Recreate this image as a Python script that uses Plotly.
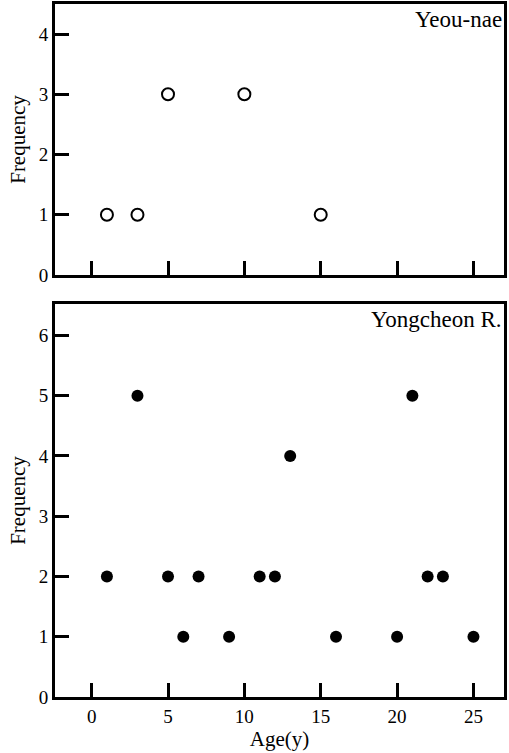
import plotly.graph_objects as go

# Yeou-nae (open circles)
yeou_age = [1, 3, 5, 10, 15]
yeou_freq = [1, 1, 3, 3, 1]

# Yongcheon R. (filled circles)
yong_age = [1, 3, 5, 6, 7, 9, 11, 12, 13, 16, 20, 21, 22, 23, 25]
yong_freq = [2, 5, 2, 1, 2, 1, 2, 2, 4, 1, 1, 5, 2, 2, 1]

x_ticks = [0, 5, 10, 15, 20, 25]
y_ticks_top = [0, 1, 2, 3, 4]
y_ticks_bot = [0, 1, 2, 3, 4, 5, 6]

FONT = "Liberation Serif"

fig = go.Figure()
fig.add_trace(go.Scatter(x=yeou_age, y=yeou_freq, mode="markers",
                         marker=dict(symbol="circle-open", size=12, color="black",
                                     line=dict(width=2, color="black")),
                         xaxis="x", yaxis="y", showlegend=False))
fig.add_trace(go.Scatter(x=yong_age, y=yong_freq, mode="markers",
                         marker=dict(symbol="circle", size=12, color="black"),
                         xaxis="x2", yaxis="y2", showlegend=False))

axis_common = dict(showline=True, linecolor="black", linewidth=3, mirror=True,
                   ticks="inside", tickwidth=3, tickcolor="black",
                   showgrid=False, zeroline=False,
                   tickfont=dict(family=FONT, size=19, color="black"))

fig.update_layout(
    width=509, height=753,
    margin=dict(l=55, r=5, t=4, b=56, autoexpand=False),
    plot_bgcolor="white", paper_bgcolor="white",
    font=dict(family=FONT, color="black"),
    xaxis=dict(axis_common, domain=[0, 1], range=[-2.4, 27], tickvals=x_ticks,
               showticklabels=False, ticklen=14, anchor="y"),
    yaxis=dict(axis_common, domain=[0.609, 1], range=[0, 4.5], tickvals=y_ticks_top,
               ticklen=14, anchor="x",
               title=dict(text="Frequency", font=dict(family=FONT, size=21), standoff=8)),
    xaxis2=dict(axis_common, domain=[0, 1], range=[-2.4, 27], tickvals=x_ticks,
                ticklen=14, anchor="y2",
                title=dict(text="Age(y)", font=dict(family=FONT, size=21), standoff=4)),
    yaxis2=dict(axis_common, domain=[0, 0.567], range=[0, 6.52], tickvals=y_ticks_bot,
                ticklen=14, anchor="x2",
                title=dict(text="Frequency", font=dict(family=FONT, size=21), standoff=8)),
    annotations=[
        dict(text="Yeou-nae", xref="x domain", yref="y domain", x=1.0, y=0.995,
             xanchor="right", yanchor="top", showarrow=False,
             font=dict(family=FONT, size=23, color="black")),
        dict(text="Yongcheon R.", xref="x2 domain", yref="y2 domain", x=1.0, y=0.997,
             xanchor="right", yanchor="top", showarrow=False,
             font=dict(family=FONT, size=23, color="black")),
    ],
)

fig.write_html("out.html", config={"displayModeBar": False},
               post_script="document.body.style.margin='0';document.body.style.overflow='hidden';")
